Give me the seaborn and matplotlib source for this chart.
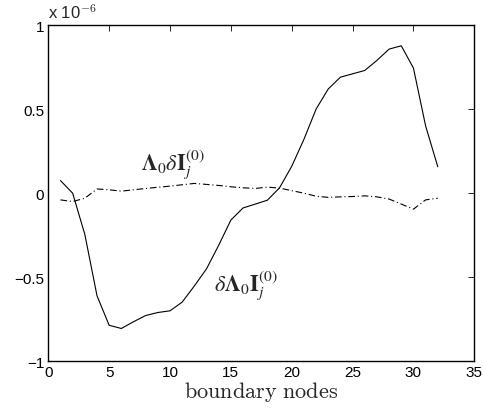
import numpy as np
import pandas as pd
import seaborn as sns
import matplotlib
matplotlib.use("Agg")
import matplotlib.pyplot as plt

# values in units of 1e-6
nodes = list(range(1, 33))
delta_lambda = [0.075, 0.0, -0.245, -0.61, -0.786, -0.805, -0.765, -0.728, -0.71, -0.70,
                -0.648, -0.552, -0.45, -0.31, -0.16, -0.088, -0.065, -0.042, 0.032, 0.16,
                0.32, 0.50, 0.62, 0.69, 0.71, 0.73, 0.79, 0.857, 0.877, 0.744,
                0.40, 0.157]
lambda_delta = [-0.04, -0.05, -0.03, 0.025, 0.02, 0.012, 0.02, 0.028, 0.035, 0.042,
                0.05, 0.058, 0.052, 0.046, 0.038, 0.032, 0.028, 0.036, 0.03, 0.015,
                0.0, -0.018, -0.025, -0.022, -0.02, -0.016, -0.022, -0.035, -0.065, -0.095,
                -0.04, -0.03]

xticks = [0, 5, 10, 15, 20, 25, 30, 35]
yticks = [-1, -0.5, 0, 0.5, 1]
ytick_labels = ["\u22121", "\u22120.5", "0", "0.5", "1"]

df = pd.DataFrame({"node": nodes, "dl": delta_lambda, "ld": lambda_delta})

sns.set_style("white")
plt.rcParams["font.family"] = ["Liberation Sans", "DejaVu Sans"]
plt.rcParams["mathtext.fontset"] = "cm"

fig = plt.figure(figsize=(4.83, 4.14), dpi=100)
ax = fig.add_axes([0.1, 0.125, 0.882, 0.812])

sns.lineplot(data=df, x="node", y="dl", ax=ax, color="black", linewidth=0.8)
sns.lineplot(data=df, x="node", y="ld", ax=ax, color="black", linewidth=0.8,
             dashes=False, linestyle=(0, (6, 2.5, 1, 2.5)))

ax.set_xlim(0, 35)
ax.set_ylim(-1, 1)
ax.set_xticks(xticks)
ax.set_xticklabels([str(t) for t in xticks])
ax.set_yticks(yticks)
ax.set_yticklabels(ytick_labels)
ax.tick_params(direction="in", length=4, width=0.6, labelsize=11, colors="black",
               top=True, right=True, pad=3)
for s in ax.spines.values():
    s.set_visible(True)
    s.set_color("black")
    s.set_linewidth(1.0)

ax.set_xlabel(r"$\mathrm{boundary\ nodes}$", fontsize=16, labelpad=0)
ax.set_ylabel("")

ax.text(0.0, 1.012, r"x 10$^{\mathsf{-6}}$", transform=ax.transAxes, fontsize=12,
        ha="left", va="bottom")
# curve labels
ax.text(10.2, 0.17, r"$\mathbf{\Lambda}_0\delta\mathbf{I}_j^{(0)}$", fontsize=16,
        ha="center", va="center", math_fontfamily="stix")
ax.text(16.2, -0.55, r"$\delta\mathbf{\Lambda}_0\mathbf{I}_j^{(0)}$", fontsize=16,
        ha="center", va="center", math_fontfamily="stix")

fig.savefig("out.png", dpi=100)
